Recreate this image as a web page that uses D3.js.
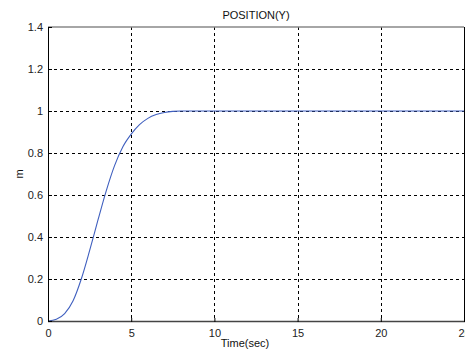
<!DOCTYPE html>
<html>
<head>
<meta charset="utf-8">
<script src="https://cdn.jsdelivr.net/npm/d3@7/dist/d3.min.js"></script>
<style>
  html, body { margin: 0; padding: 0; background: #fff; }
  svg { display: block; font-family: Arial, "Liberation Sans", sans-serif; }
</style>
</head>
<body>
<svg id="chart" width="465" height="351"></svg>
<script>
// step response
const timeSec = [0, 0.5, 1, 1.5, 2, 2.5, 3, 3.5, 4, 4.5, 5, 5.5, 6, 6.5, 7, 7.5, 8, 9, 10, 12, 15, 20, 25];
const position = [0, 0.008, 0.035, 0.095, 0.2, 0.335, 0.48, 0.62, 0.74, 0.83, 0.89, 0.935, 0.965, 0.983, 0.993, 0.998, 1, 1, 1, 1, 1, 1, 1];
const xTicks = [0, 5, 10, 15, 20, 25];
const yTicks = [0, 0.2, 0.4, 0.6, 0.8, 1, 1.2, 1.4];

const svg = d3.select("#chart");
const mLeft = 48, mRight = 464, mTop = 27, mBottom = 321;

const x = d3.scaleLinear().domain([0, 25]).range([mLeft, mRight]);
const y = d3.scaleLinear().domain([0, 1.4]).range([mBottom, mTop]);

// grid
const grid = svg.append("g").attr("stroke", "#000").attr("stroke-width", 1)
  .attr("stroke-dasharray", "3,3").attr("shape-rendering", "crispEdges");
grid.selectAll(".gx").data(xTicks.slice(1, -1)).enter().append("line")
  .attr("x1", d => Math.round(x(d)) + 0.5).attr("x2", d => Math.round(x(d)) + 0.5)
  .attr("y1", mTop).attr("y2", mBottom);
grid.selectAll(".gy").data(yTicks.slice(1, -1)).enter().append("line")
  .attr("y1", d => Math.round(y(d)) + 0.5).attr("y2", d => Math.round(y(d)) + 0.5)
  .attr("x1", mLeft).attr("x2", mRight);

// curve
const line = d3.line().x((d, i) => x(timeSec[i])).y(d => y(d)).curve(d3.curveMonotoneX);
svg.append("path").datum(position)
  .attr("d", line).attr("fill", "none")
  .attr("stroke", "#3f5fbf").attr("stroke-width", 1.1);

// frame
svg.append("line").attr("x1", mLeft).attr("x2", mRight).attr("y1", mTop).attr("y2", mTop)
  .attr("stroke", "#888").attr("stroke-width", 1.6);
svg.append("line").attr("x1", mLeft).attr("x2", mRight + 1).attr("y1", mBottom + 0.5).attr("y2", mBottom + 0.5)
  .attr("stroke", "#444").attr("stroke-width", 1.4);
svg.append("line").attr("x1", mLeft + 0.5).attr("x2", mLeft + 0.5).attr("y1", mTop).attr("y2", mBottom + 1)
  .attr("stroke", "#000").attr("stroke-width", 1);
svg.append("line").attr("x1", mRight + 0.5).attr("x2", mRight + 0.5).attr("y1", mTop).attr("y2", mBottom + 1)
  .attr("stroke", "#000").attr("stroke-width", 1);

// axes with inward ticks
const xAxis = svg.append("g").attr("transform", `translate(0,${mBottom + 1})`)
  .call(d3.axisBottom(x).tickValues(xTicks).tickSizeInner(-4).tickSizeOuter(0).tickPadding(7).tickFormat(d3.format("d")));
const yAxis = svg.append("g").attr("transform", `translate(${mLeft},0)`)
  .call(d3.axisLeft(y).tickValues(yTicks).tickSizeInner(-4).tickSizeOuter(0).tickPadding(5).tickFormat(d => d3.format("~g")(d)));
[xAxis, yAxis].forEach(a => {
  a.select(".domain").remove();
  a.selectAll("line").attr("stroke", "#000");
  a.selectAll("text").attr("font-size", 11).attr("fill", "#222")
    .attr("font-family", "Arial, 'Liberation Sans', sans-serif");
});

// titles
svg.append("text").attr("x", 256).attr("y", 19).attr("text-anchor", "middle")
  .attr("font-size", 11).attr("fill", "#111").text("POSITION(Y)");
svg.append("text").attr("x", 245).attr("y", 347).attr("text-anchor", "middle")
  .attr("font-size", 11).attr("fill", "#111").text("Time(sec)");
svg.append("text").attr("transform", "translate(23,174) rotate(-90)").attr("text-anchor", "middle")
  .attr("font-size", 11).attr("fill", "#111").text("m");
</script>
</body>
</html>
